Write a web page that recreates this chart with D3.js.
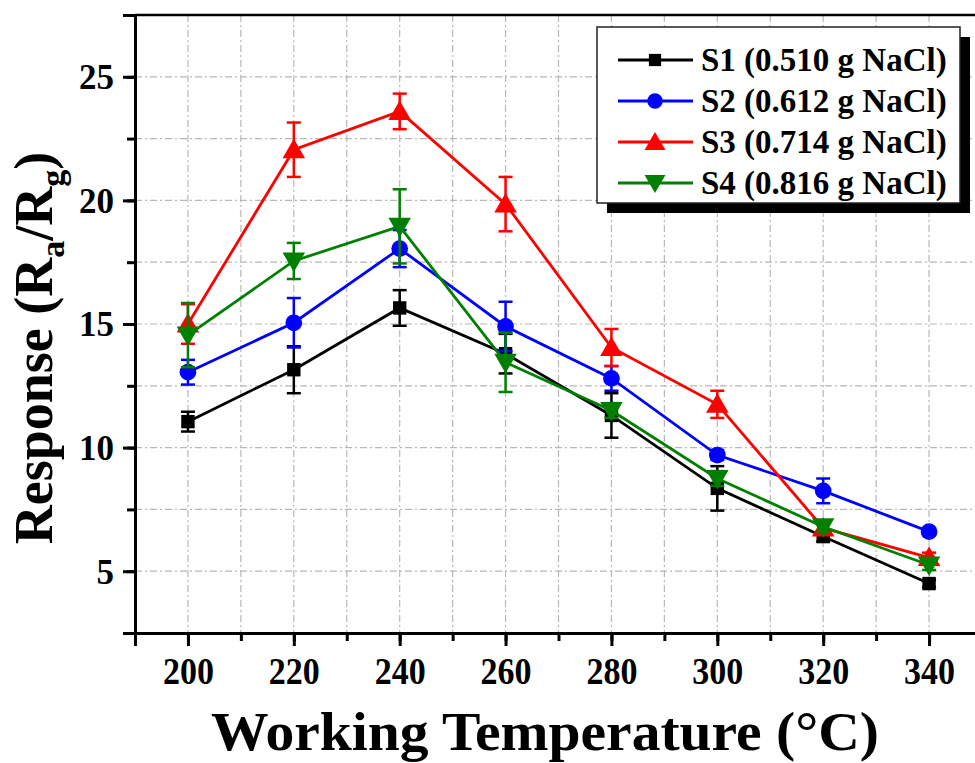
<!DOCTYPE html>
<html>
<head>
<meta charset="utf-8">
<script src="https://cdn.jsdelivr.net/npm/d3@7"></script>
<style>
  body { margin: 0; background: #fff; }
  svg { display: block; font-family: "Liberation Serif", "Times New Roman", serif; font-weight: bold; }
</style>
</head>
<body>
<div id="chart"></div>
<script>
// data
var temps = [200, 220, 240, 260, 280, 300, 320, 340];
var seriesNames = ["S1 (0.510 g NaCl)", "S2 (0.612 g NaCl)", "S3 (0.714 g NaCl)", "S4 (0.816 g NaCl)"];
var s1 = [11.05, 13.15, 15.65, 13.8, 11.3, 8.35, 6.4, 4.5];
var s1Err = [0.4, 0.95, 0.72, 0.8, 0.9, 0.9, 0.2, 0.15];
var s2 = [13.05, 15.05, 18.05, 14.9, 12.8, 9.7, 8.25, 6.6];
var s2Err = [0.5, 1.0, 0.75, 1.0, 0.5, 0.2, 0.5, 0.15];
var s3 = [15.0, 22.05, 23.6, 19.85, 14.05, 11.75, 6.75, 5.55];
var s3Err = [0.8, 1.1, 0.72, 1.1, 0.75, 0.55, 0.2, 0.2];
var s4 = [14.55, 17.55, 18.95, 13.45, 11.5, 8.75, 6.8, 5.25];
var s4Err = [1.3, 0.73, 1.5, 1.2, 0.3, 0.3, 0.2, 0.2];
var yTicks = [5, 10, 15, 20, 25];
var xTicks = [200, 220, 240, 260, 280, 300, 320, 340];

var colors = ["#000000", "#0000ff", "#ff0000", "#008000"];
var symbols = [d3.symbolSquare, d3.symbolCircle, d3.symbolTriangle, d3.symbolTriangle];

var svgWidth = 975;
var svgHeight = 763;
var margin = { top: 15, right: -7, bottom: 130, left: 135 };
var width = svgWidth - margin.left - margin.right;
var height = svgHeight - margin.top - margin.bottom;

var svg = d3.select("#chart")
  .append("svg")
  .attr("width", svgWidth)
  .attr("height", svgHeight);

var chartGroup = svg.append("g")
  .attr("transform", `translate(${margin.left}, ${margin.top})`);

var xScale = d3.scaleLinear().domain([190, 350]).range([0, width]);
var yScale = d3.scaleLinear().domain([2.5, 27.5]).range([height, 0]);

// grid lines (dash-dot)
var xGrid = d3.range(200, 350, 10);
var yGrid = d3.range(5, 27.5, 2.5);
chartGroup.append("g").selectAll("line")
  .data(xGrid).enter().append("line")
  .attr("x1", d => xScale(d)).attr("x2", d => xScale(d))
  .attr("y1", 0).attr("y2", height)
  .attr("stroke", "#b8b8b8").attr("stroke-width", 1.2)
  .attr("stroke-dasharray", "7,3,2,3");
chartGroup.append("g").selectAll("line")
  .data(yGrid).enter().append("line")
  .attr("x1", 0).attr("x2", width)
  .attr("y1", d => yScale(d)).attr("y2", d => yScale(d))
  .attr("stroke", "#b8b8b8").attr("stroke-width", 1.2)
  .attr("stroke-dasharray", "7,3,2,3");

// axes
var xAxis = d3.axisBottom(xScale).tickValues(xTicks).tickSize(13).tickPadding(11).tickFormat(d3.format("d"));
var yAxis = d3.axisLeft(yScale).tickValues(yTicks).tickSize(12).tickPadding(9);

var xMinor = d3.axisBottom(xScale).tickValues(d3.range(190, 351, 10)).tickSize(8).tickFormat("");
var yMinor = d3.axisLeft(yScale).tickValues(d3.range(2.5, 27.6, 2.5)).tickSize(8).tickFormat("");

chartGroup.append("g").attr("transform", `translate(0, ${height})`).call(xMinor);
chartGroup.append("g").call(yMinor);

var gx = chartGroup.append("g").attr("transform", `translate(0, ${height})`).call(xAxis);
var gy = chartGroup.append("g").call(yAxis);

chartGroup.selectAll(".domain").attr("stroke", "#000").attr("stroke-width", 3);
chartGroup.selectAll(".tick line").attr("stroke", "#000").attr("stroke-width", 3);
gx.selectAll("text").attr("font-size", 38).attr("font-weight", "bold").attr("fill", "#000")
  .attr("font-family", "Liberation Serif")
  .attr("textLength", 51).attr("lengthAdjust", "spacingAndGlyphs");
gy.selectAll("text").attr("font-size", 35).attr("font-weight", "bold").attr("fill", "#000")
  .attr("font-family", "Liberation Serif").attr("dy", "0.34em");

// top frame line
chartGroup.append("line")
  .attr("x1", 0).attr("x2", width).attr("y1", 0).attr("y2", 0)
  .attr("stroke", "#000").attr("stroke-width", 2.5);

// series
var allValues = [s1, s2, s3, s4];
var allErrs = [s1Err, s2Err, s3Err, s4Err];

var line = d3.line()
  .x(d => xScale(d.t))
  .y(d => yScale(d.v));

allValues.forEach(function(vals, i) {
  var data = temps.map(function(t, j) { return { t: t, v: vals[j], e: allErrs[i][j] }; });
  var g = chartGroup.append("g");

  // error bars
  var eb = g.selectAll(".err").data(data).enter().append("g");
  eb.append("line")
    .attr("x1", d => xScale(d.t)).attr("x2", d => xScale(d.t))
    .attr("y1", d => yScale(d.v + d.e)).attr("y2", d => yScale(d.v - d.e))
    .attr("stroke", colors[i]).attr("stroke-width", 2.5);
  eb.append("line")
    .attr("x1", d => xScale(d.t) - 7).attr("x2", d => xScale(d.t) + 7)
    .attr("y1", d => yScale(d.v + d.e)).attr("y2", d => yScale(d.v + d.e))
    .attr("stroke", colors[i]).attr("stroke-width", 2.5);
  eb.append("line")
    .attr("x1", d => xScale(d.t) - 7).attr("x2", d => xScale(d.t) + 7)
    .attr("y1", d => yScale(d.v - d.e)).attr("y2", d => yScale(d.v - d.e))
    .attr("stroke", colors[i]).attr("stroke-width", 2.5);

  g.append("path")
    .datum(data)
    .attr("d", line)
    .attr("fill", "none")
    .attr("stroke", colors[i])
    .attr("stroke-width", 2.8);

  var sym = d3.symbol().type(symbols[i]).size(i === 0 ? 180 : 220);
  g.selectAll(".pt").data(data).enter().append("path")
    .attr("d", sym)
    .attr("fill", colors[i])
    .attr("transform", d => `translate(${xScale(d.t)}, ${yScale(d.v) + (i === 2 ? 2 : i === 3 ? -2 : 0)}) rotate(${i === 3 ? 180 : 0})`);
});

// axis titles
svg.append("text")
  .attr("x", 545).attr("y", 750)
  .attr("text-anchor", "middle")
  .attr("font-size", 54)
  .attr("textLength", 668).attr("lengthAdjust", "spacingAndGlyphs")
  .text("Working Temperature (°C)");

var yTitle = svg.append("text")
  .attr("transform", "translate(52, 348) rotate(-90)")
  .attr("text-anchor", "middle")
  .attr("font-size", 54);
yTitle.append("tspan").text("Response (R");
yTitle.append("tspan").attr("font-size", 34).attr("dy", 12).text("a");
yTitle.append("tspan").attr("dy", -12).text("/R");
yTitle.append("tspan").attr("font-size", 34).attr("dy", 12).text("g");
yTitle.append("tspan").attr("dy", -12).text(")");

// legend
var legend = svg.append("g").attr("transform", "translate(597, 27)");
legend.append("rect")
  .attr("x", 10).attr("y", 10).attr("width", 363).attr("height", 176)
  .attr("fill", "#000");
legend.append("rect")
  .attr("x", 0).attr("y", 0).attr("width", 363).attr("height", 176)
  .attr("fill", "#fff").attr("stroke", "#222").attr("stroke-width", 1.5);

seriesNames.forEach(function(name, i) {
  var row = legend.append("g").attr("transform", `translate(0, ${33 + i * 41})`);
  row.append("line")
    .attr("x1", 21).attr("x2", 96).attr("y1", 0).attr("y2", 0)
    .attr("stroke", colors[i]).attr("stroke-width", 2.8);
  row.append("path")
    .attr("d", d3.symbol().type(symbols[i]).size(i === 0 ? 150 : 190))
    .attr("fill", colors[i])
    .attr("transform", `translate(58, ${i === 2 ? 2 : i === 3 ? -2 : 0}) rotate(${i === 3 ? 180 : 0})`);
  row.append("text")
    .attr("x", 104).attr("y", 11)
    .attr("font-size", 33)
    .attr("fill", "#000")
    .text(name);
});
</script>
</body>
</html>
